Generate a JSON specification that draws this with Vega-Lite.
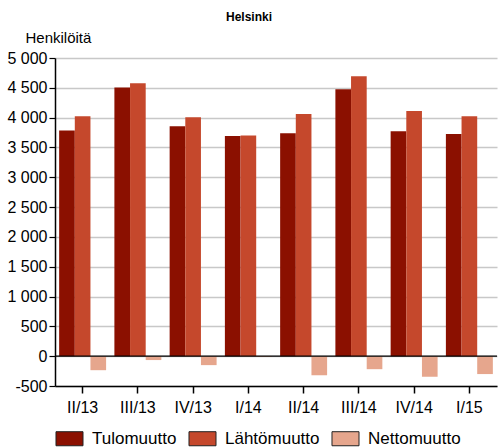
{
  "$schema": "https://vega.github.io/schema/vega-lite/v6.json",
  "autosize": "none",
  "width": 442,
  "height": 328,
  "padding": {"left": 55, "top": 58, "right": 1, "bottom": 62},
  "background": "white",
  "config": {
    "font": "Liberation Sans",
    "view": {"stroke": null}
  },
  "title": {
    "text": "Helsinki",
    "fontSize": 12,
    "fontWeight": "bold",
    "font": "Liberation Sans",
    "color": "black",
    "anchor": "middle",
    "dx": -27,
    "offset": 6
  },
  "data": {
    "values": [
      {"q": "II/13", "s": "Tulomuutto", "v": 3785},
      {"q": "II/13", "s": "Lähtömuutto", "v": 4025},
      {"q": "II/13", "s": "Nettomuutto", "v": -235},
      {"q": "III/13", "s": "Tulomuutto", "v": 4505},
      {"q": "III/13", "s": "Lähtömuutto", "v": 4575},
      {"q": "III/13", "s": "Nettomuutto", "v": -65},
      {"q": "IV/13", "s": "Tulomuutto", "v": 3855},
      {"q": "IV/13", "s": "Lähtömuutto", "v": 4005},
      {"q": "IV/13", "s": "Nettomuutto", "v": -150},
      {"q": "I/14", "s": "Tulomuutto", "v": 3690},
      {"q": "I/14", "s": "Lähtömuutto", "v": 3700},
      {"q": "I/14", "s": "Nettomuutto", "v": -12},
      {"q": "II/14", "s": "Tulomuutto", "v": 3740},
      {"q": "II/14", "s": "Lähtömuutto", "v": 4060},
      {"q": "II/14", "s": "Nettomuutto", "v": -320},
      {"q": "III/14", "s": "Tulomuutto", "v": 4475},
      {"q": "III/14", "s": "Lähtömuutto", "v": 4695},
      {"q": "III/14", "s": "Nettomuutto", "v": -218},
      {"q": "IV/14", "s": "Tulomuutto", "v": 3770},
      {"q": "IV/14", "s": "Lähtömuutto", "v": 4110},
      {"q": "IV/14", "s": "Nettomuutto", "v": -345},
      {"q": "I/15", "s": "Tulomuutto", "v": 3725},
      {"q": "I/15", "s": "Lähtömuutto", "v": 4025},
      {"q": "I/15", "s": "Nettomuutto", "v": -300}
    ]
  },
  "layer": [
    {
      "mark": {"type": "bar"},
      "encoding": {
        "x": {
          "field": "q",
          "type": "nominal",
          "sort": null,
          "scale": {"paddingInner": 0.15, "paddingOuter": 0.075},
          "axis": {
            "title": null,
            "labelAngle": 0,
            "labelFontSize": 16,
            "labelColor": "black",
            "labelPadding": 6,
            "labelOverlap": false,
            "domainColor": "black",
            "domainWidth": 1.5,
            "tickColor": "black",
            "tickSize": 7,
            "tickWidth": 1.5,
            "grid": false,
            "offset": 0
          }
        },
        "xOffset": {
          "field": "s",
          "type": "nominal",
          "sort": ["Tulomuutto", "Lähtömuutto", "Nettomuutto"],
          "scale": {"paddingInner": 0, "paddingOuter": 0}
        },
        "y": {
          "field": "v",
          "type": "quantitative",
          "scale": {"domain": [-500, 5000], "nice": false, "zero": false},
          "axis": {
            "values": [-500, 0, 500, 1000, 1500, 2000, 2500, 3000, 3500, 4000, 4500, 5000],
            "tickCount": 20,
            "labelExpr": "replace(replace(format(datum.value, ','), /,/g, ' '), '\u2212', '-')",
            "labelOverlap": false,
            "title": "Henkilöitä",
            "titleAngle": 0,
            "titleAlign": "left",
            "titleBaseline": "alphabetic",
            "titleX": -30,
            "titleY": -16,
            "titleFontSize": 15,
            "titleFontWeight": "normal",
            "titleColor": "black",
            "labelFontSize": 16,
            "labelColor": "black",
            "labelPadding": 2,
            "domainColor": "black",
            "domainWidth": 1.5,
            "tickColor": "black",
            "tickSize": 6,
            "tickWidth": 1.2,
            "grid": true,
            "gridColor": "#c8c8c8",
            "gridWidth": 1.5
          }
        },
        "color": {
          "field": "s",
          "type": "nominal",
          "sort": ["Tulomuutto", "Lähtömuutto", "Nettomuutto"],
          "scale": {
            "domain": ["Tulomuutto", "Lähtömuutto", "Nettomuutto"],
            "range": ["#8b1000", "#c5482c", "#e6a68d"]
          },
          "legend": {
            "title": null,
            "orient": "none",
            "direction": "horizontal",
            "legendX": 0,
            "legendY": 366,
            "symbolType": "M-1,-0.52H1V0.52H-1Z",
            "symbolSize": 730,
            "symbolStrokeColor": "#222",
            "symbolStrokeWidth": 1,
            "symbolOpacity": 1,
            "labelFontSize": 17,
            "labelColor": "black",
            "labelOffset": 8,
            "columnPadding": 9,
            "labelLimit": 200
          }
        }
      }
    },
    {
      "data": {"values": [{"z": 0}]},
      "mark": {"type": "rule", "color": "black", "strokeWidth": 1.2},
      "encoding": {"y": {"field": "z", "type": "quantitative"}}
    }
  ]
}
